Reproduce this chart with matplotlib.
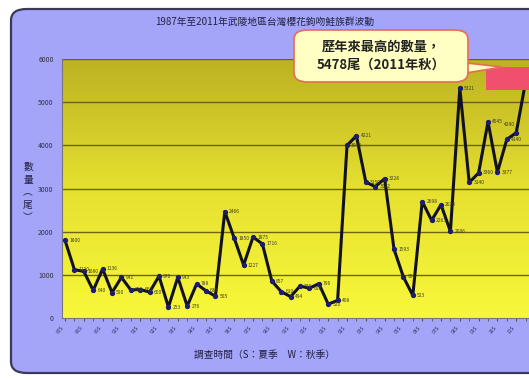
import numpy as np
import matplotlib
matplotlib.use('Agg')
import matplotlib.pyplot as plt
from matplotlib.patches import FancyBboxPatch, Rectangle, Polygon

plt.rcParams['font.family'] = ['Noto Sans CJK TC', 'DejaVu Sans']

# survey counts, summer (S) and autumn (W) of each year 1987-2011
counts = [1800, 1120, 1080, 640, 1136, 590, 941, 650, 660, 600,
          970, 253, 943, 276, 788, 630, 505, 2466, 1850, 1227,
          1875, 1716, 857, 610, 494, 740, 690, 796, 320, 408,
          3998, 4221, 3150, 3042, 3228, 1593, 950, 523, 2698, 2263,
          2624, 2006, 5321, 3140, 3360, 4545, 3377, 4140, 4290, 5478]
years = list(range(1987, 2012))
tick_labels = ['%02dS' % (y % 100) for y in years]

title = '1987年至2011年武陵地區台灣櫻花鉤吻鮭族群波動'
xlabel = '調查時間（S：夏季　W：秋季）'
ylabel = '數\n量\n︵\n尾\n︶'
callout = '歷年來最高的數量，\n5478尾（2011年秋）'

W, H = 529, 380
fig = plt.figure(figsize=(W / 100, H / 100), dpi=100)
fig.patch.set_facecolor('white')

# rounded blue panel behind the chart
panel = FancyBboxPatch((11 / W, 7 / H), 540 / W, 364 / H,
                       boxstyle='round,pad=0,rounding_size=0.03',
                       transform=fig.transFigure, facecolor='#a4a4f8',
                       edgecolor='#3a3a58', linewidth=1.6, zorder=-5)
fig.patches.append(panel)

ax = fig.add_axes([62 / W, 62 / H, (W - 62) / W, (318 - 59) / H])
ax.set_facecolor('none')
ax.set_zorder(1)

x = np.arange(len(counts))
ax.set_xlim(-0.32, 49.36)
ax.set_ylim(0, 6000)

# yellow gradient background
grad = np.linspace(0, 1, 256).reshape(-1, 1)
cmap = matplotlib.colors.LinearSegmentedColormap.from_list(
    'yl', ['#f8f83a', '#e6e030', '#bcb222'])
ax.imshow(grad, aspect='auto', cmap=cmap, origin='lower',
          extent=[-0.32, 49.36, 0, 6000], zorder=0)

for v in range(1000, 6001, 1000):
    ax.axhline(v, color='#6e6410', linewidth=1.0, zorder=1)

ax.plot(x, counts, color='#111122', linewidth=2.2, zorder=3)
ax.plot(x, counts, 'o', color='#1c1c70', markersize=2.8, zorder=4)
for xi, v in zip(x[:-1], counts[:-1]):
    if xi == 48:
        off, ha = (-1, 6), 'right'
    else:
        off, ha = (3, 0), 'left'
    ax.annotate(str(v), (xi, v), xytext=off,
                textcoords='offset points', ha=ha,
                fontsize=3.5, color='#3a3a20', va='center', zorder=5)

ax.set_yticks(range(0, 6001, 1000))
ax.tick_params(axis='y', labelsize=5, colors='#333344', length=0, pad=6)
ax.set_xticks(x[::2])
ax.set_xticklabels(tick_labels, rotation=50, ha='right', fontsize=3.6,
                   color='#333366')
ax.set_xticks(x, minor=True)
ax.tick_params(axis='x', which='both', length=2, color='#555555', pad=3)
for s in ['top', 'right']:
    ax.spines[s].set_visible(False)
ax.spines['left'].set_color('#777777')
ax.spines['bottom'].set_color('#777777')

fig.text(0.5, 1 - 22 / H, title, ha='center', va='center', fontsize=7,
         color='#222244')
fig.text(0.5, 1 - 355 / H, xlabel, ha='center', va='center', fontsize=7,
         color='#222244')
fig.text(28 / W, 1 - 192 / H, ylabel, ha='center', va='center', fontsize=7,
         color='#222244', linespacing=1.3)

# red box over the last point and callout bubble
fig.patches.append(Rectangle((486 / W, 1 - 90 / H), 50 / W, 23 / H,
                             transform=fig.transFigure, facecolor='#f0506e',
                             edgecolor='none', zorder=6))
tail = Polygon([(440 / W, 1 - 60 / H), (502 / W, 1 - 67 / H),
                (460 / W, 1 - 74 / H)], closed=True,
               transform=fig.transFigure, facecolor='#ffffc4',
               edgecolor='#e86a5a', linewidth=1.2, zorder=7)
fig.patches.append(tail)
bubble = FancyBboxPatch((294 / W, 1 - 82 / H), 174 / W, 52 / H,
                        boxstyle='round,pad=0,rounding_size=0.025',
                        transform=fig.transFigure, facecolor='#ffffc4',
                        edgecolor='#e86a5a', linewidth=1.2, zorder=8)
fig.patches.append(bubble)
fig.text(381 / W, 1 - 56 / H, callout, ha='center', va='center',
         fontsize=9.5, fontweight='bold', color='#222222', zorder=9,
         linespacing=1.35)

fig.savefig('out.png', dpi=100)
